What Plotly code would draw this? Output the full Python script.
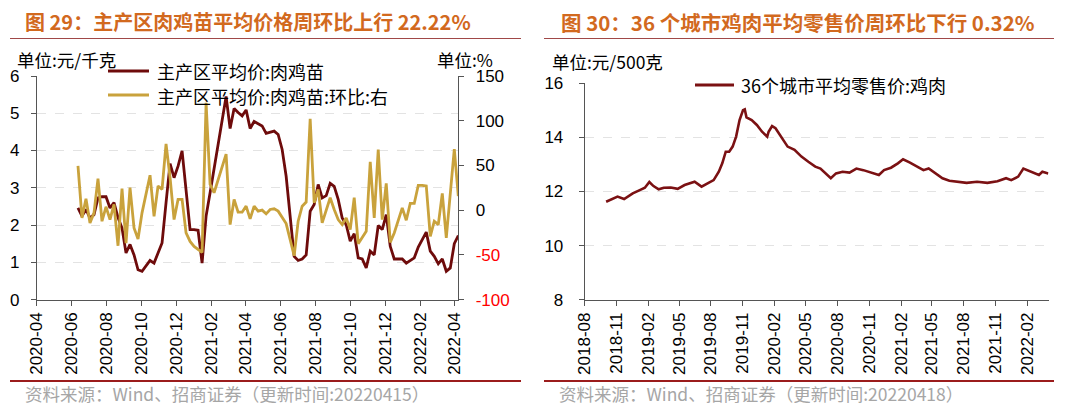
import pandas as pd
import plotly.graph_objects as go

# 图29: 主产区肉鸡苗平均价 (元/千克) and week-on-week change (%), weekly
week_dates = pd.date_range("2020-06-12", periods=96, freq="7D")
chick_price = [2.46, 2.24, 2.42, 2.19, 2.28, 2.73, 2.76, 2.76, 2.46, 2.6,
               2.2, 1.92, 1.25, 1.48, 1.2, 0.8, 0.76, 0.89, 1.05, 0.98,
               1.25, 1.52, 2.6, 3.65, 3.27, 3.58, 3.99, 2.96, 1.88, 1.88,
               1.86, 0.98, 2.24, 2.87, 3.49, 4.12, 4.79, 5.45, 4.59, 5.13,
               5.02, 4.93, 5.09, 4.59, 4.78, 4.72, 4.66, 4.46, 4.48, 4.52,
               4.43, 4.03, 3.31, 2.24, 1.16, 1.05, 1.09, 1.2, 2.37, 2.55,
               3.09, 2.73, 2.79, 3.12, 3.04, 2.69, 2.19, 2.01, 1.57, 1.77,
               1.12, 1.09, 0.85, 1.3, 1.2, 1.99, 1.88, 2.28, 1.43, 1.09,
               1.09, 1.09, 0.98, 1.05, 1.12, 1.41, 1.63, 1.81, 1.3, 1.16,
               0.96, 1.09, 0.76, 0.85, 1.5, 1.72]
chick_wow = [49.6, -8.6, 12.8, -14.3, -3, 35.3, -12.4, 3.8, -10.5, 6.4,
             -39.8, 24.1, -36.8, 25.2, -19.9, -32.3, -3, 16.5, 39.1, -6.8,
             27, 23.3, 74, 36.5, -10.5, 12, 12, -25.5, -35, -40.5,
             -44.3, -47.3, 120.1, 28.9, 19.5, 34.5, 49.6, 62.7, -16.1, 12,
             -2.3, -2.3, 4.5, -9.8, 4.5, -1.1, 0, -4.1, 0.8, 1.5,
             -1.1, -8.6, -15, -33, -51, -12.4, 4.5, 9, 102.1, 8.3,
             23.3, -14.3, 0.8, 13.9, 0.8, -10.5, -16.1, -8.6, -21.8, 13.9,
             -37.5, -31.1, -23.6, 54, -8.6, 67.6, -10.5, 30, -36, -25.5,
             -12.4, 2.6, -11.3, 7.5, 7.5, 27.8, 27.8, 27, -29.3, -12.4,
             -16.1, 18.8, -31.1, 23.3, 68.3, 15.8]
right_ticks = [-100, -50, 0, 50, 100, 150]

# 图30: 36个城市平均零售价:鸡肉 (元/500克)
retail_dates = ["2018-10-02", "2018-10-20", "2018-11-04", "2018-11-23", "2018-12-18",
                "2019-01-12", "2019-01-22", "2019-02-04", "2019-02-16", "2019-03-03",
                "2019-03-18", "2019-04-07", "2019-04-27", "2019-05-17", "2019-06-15",
                "2019-07-05", "2019-07-25", "2019-08-09", "2019-08-24", "2019-09-03",
                "2019-09-13", "2019-09-23", "2019-10-03", "2019-10-13", "2019-10-23",
                "2019-11-02", "2019-11-07", "2019-11-12", "2019-11-27", "2019-12-12",
                "2019-12-27", "2020-01-11", "2020-01-15", "2020-01-25", "2020-02-04",
                "2020-02-19", "2020-03-10", "2020-03-30", "2020-04-19", "2020-05-09",
                "2020-05-29", "2020-06-13", "2020-06-28", "2020-07-13", "2020-07-28",
                "2020-08-16", "2020-09-05", "2020-09-25", "2020-10-15", "2020-11-04",
                "2020-11-29", "2020-12-14", "2021-01-03", "2021-01-23", "2021-02-07",
                "2021-02-27", "2021-03-18", "2021-04-07", "2021-04-22", "2021-05-12",
                "2021-06-01", "2021-06-21", "2021-07-11", "2021-08-10", "2021-09-09",
                "2021-10-09", "2021-11-07", "2021-12-02", "2021-12-17", "2022-01-06",
                "2022-01-21", "2022-01-31", "2022-02-15", "2022-03-07", "2022-03-17",
                "2022-04-03"]
retail_price = [11.62, 11.71, 11.81, 11.72, 11.93, 12.08, 12.14, 12.35, 12.2, 12.08,
                12.14, 12.15, 12.1, 12.24, 12.36, 12.18, 12.32, 12.42, 12.73, 13.04,
                13.47, 13.47, 13.66, 14.03, 14.64, 15.01, 15.04, 14.74, 14.64, 14.46,
                14.21, 14.03, 14.21, 14.42, 14.34, 14.03, 13.66, 13.54, 13.29, 13.1,
                12.92, 12.85, 12.67, 12.49, 12.67, 12.73, 12.7, 12.85, 12.79, 12.7,
                12.61, 12.79, 12.88, 13.04, 13.19, 13.07, 12.92, 12.79, 12.85, 12.67,
                12.49, 12.4, 12.36, 12.32, 12.36, 12.32, 12.38, 12.49, 12.42, 12.55,
                12.85, 12.79, 12.7, 12.61, 12.73, 12.67]

DARK = "#6E0B0B"
GOLD = "#C9A23C"
TITLE = "#D2691E"
RULE = "#9B1C1C"
CJK = "Noto Sans CJK SC"
NUM = "Liberation Sans, Arial"

# page body has an 8px margin, so the figure is drawn 8px in from the window corner
OFF = 8
W, H = 1079 - OFF, 420 - OFF


def fx(x):
    return (x - OFF) / W


def fy(y):
    return 1 - (y - OFF) / H


fig = go.Figure()
fig.add_trace(go.Scatter(x=week_dates, y=chick_price, name="主产区平均价:肉鸡苗",
                         mode="lines", line=dict(color=DARK, width=2.8),
                         xaxis="x", yaxis="y"))
fig.add_trace(go.Scatter(x=week_dates, y=chick_wow, name="主产区平均价:肉鸡苗:环比:右",
                         mode="lines", line=dict(color=GOLD, width=2.8),
                         xaxis="x", yaxis="y2"))
fig.add_trace(go.Scatter(x=retail_dates, y=retail_price, name="36个城市平均零售价:鸡肉",
                         mode="lines", line=dict(color="#7B1113", width=2.6),
                         xaxis="x2", yaxis="y3"))

axis_common = dict(showline=True, linecolor="#555555", linewidth=1, ticks="outside",
                   ticklen=5, tickcolor="#555555", zeroline=False, automargin=False,
                   tickfont=dict(family=NUM, size=17, color="black"))
grid = dict(showgrid=True, gridcolor="#E3E3E3", griddash="dash", gridwidth=1)

red_text = ["<span style='color:red'>%d</span>" % v if v < 0 else str(v) for v in right_ticks]

fig.update_layout(
    width=W, height=H, margin=dict(l=0, r=0, t=0, b=0, autoexpand=False),
    paper_bgcolor="white", plot_bgcolor="white", showlegend=False,
    xaxis=dict(domain=[fx(36.8), fx(458.3)], anchor="y", type="date",
               range=["2020-04-01", "2022-04-08"], tick0="2020-04-01", dtick="M2",
               tickformat="%Y-%m", tickangle=-90, showgrid=False, **axis_common),
    yaxis=dict(domain=[fy(299.6), fy(76)], anchor="x", range=[0, 6], dtick=1,
               ticklabelstandoff=8, **grid, **axis_common),
    yaxis2=dict(overlaying="y", side="right", anchor="x", range=[-100, 150],
                tickvals=right_ticks, ticktext=red_text, showgrid=False,
                ticklabelstandoff=8, **axis_common),
    xaxis2=dict(domain=[fx(584.7), fx(1048.6)], anchor="y3", type="date",
                range=["2018-08-01", "2022-04-04"], tick0="2018-08-01", dtick="M3",
                tickformat="%Y-%m", tickangle=-90, showgrid=False, **axis_common),
    yaxis3=dict(domain=[fy(299.7), fy(83.3)], anchor="x2", range=[8, 16], dtick=2,
                ticklabelstandoff=12, **grid, **axis_common),
)

notes = [
    (23, 22, "left", "<b>图 29：主产区肉鸡苗平均价格周环比上行 22.22%</b>", 20, TITLE),
    (559, 22, "left", "<b>图 30：36 个城市鸡肉平均零售价周环比下行 0.32%</b>", 20.5, TITLE),
    (15, 60, "left", "单位:元/千克", 17.5, "black"),
    (495, 60, "right", "单位:%", 17.5, "black"),
    (550, 62, "left", "单位:元/500克", 17.5, "black"),
    (155, 71, "left", "主产区平均价:肉鸡苗", 18, "black"),
    (155, 96, "left", "主产区平均价:肉鸡苗:环比:右", 18, "black"),
    (739, 85, "left", "36个城市平均零售价:鸡肉", 18, "black"),
    (23, 393, "left", "资料来源：Wind、招商证券（更新时间:20220415）", 17.5, "#A6A6A6"),
    (557, 393, "left", "资料来源：Wind、招商证券（更新时间:20220418）", 17.5, "#A6A6A6"),
]
for x, y, anchor, text, size, color in notes:
    fig.add_annotation(xref="paper", yref="paper", x=fx(x), y=fy(y), xanchor=anchor,
                       yanchor="middle", text=text, showarrow=False,
                       font=dict(family=CJK, size=size, color=color))

# legend keys
for x0, x1, y, color in [(108, 149, 71, DARK), (108, 149, 95, GOLD), (695, 734, 85, "#7B1113")]:
    fig.add_shape(type="line", xref="paper", yref="paper", x0=fx(x0), x1=fx(x1),
                  y0=fy(y), y1=fy(y), line=dict(color=color, width=3))

# rules under the titles and above the sources
for x0, x1 in [(10, 521), (544, 1054)]:
    fig.add_shape(type="line", xref="paper", yref="paper", x0=fx(x0), x1=fx(x1),
                  y0=fy(38.5), y1=fy(38.5), line=dict(color="#A04848", width=1))
    fig.add_shape(type="line", xref="paper", yref="paper", x0=fx(x0), x1=fx(x1),
                  y0=fy(381), y1=fy(381), line=dict(color=RULE, width=2))

fig.write_html("out.html")
